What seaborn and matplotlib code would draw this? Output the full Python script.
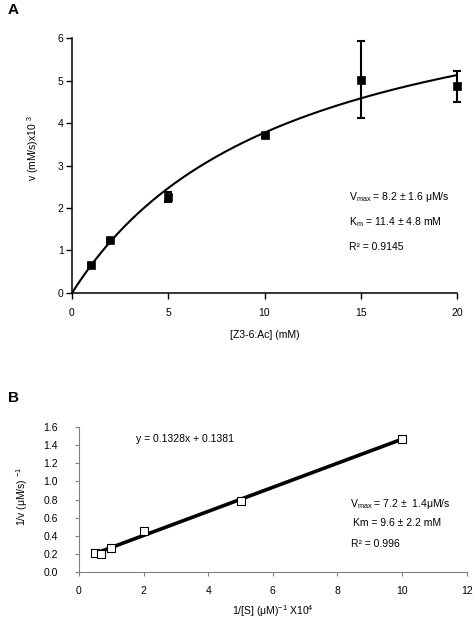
import numpy as np
import pandas as pd
import matplotlib
matplotlib.use("Agg")
import matplotlib.pyplot as plt
import seaborn as sns

# panel A: Michaelis-Menten data
conc = [1, 2, 5, 10, 15, 20]
rate = [0.65, 1.24, 2.26, 3.71, 5.02, 4.86]
rate_err = [0.03, 0.03, 0.11, 0.03, 0.90, 0.36]
vmax_fit = 8.0
km_fit = 11.2

# panel B: Lineweaver-Burk data
inv_s = [0.5, 0.67, 1, 2, 5, 10]
inv_v = [0.205, 0.2, 0.26, 0.45, 0.78, 1.47]
slope_fit = 0.1328
icept_fit = 0.1381

sns.set_style("ticks")
plt.rcParams['font.family'] = ['Liberation Sans', 'DejaVu Sans']
plt.rcParams['mathtext.fontset'] = 'custom'
plt.rcParams['mathtext.rm'] = 'Liberation Sans'
plt.rcParams['mathtext.default'] = 'regular'
for k in ['text.color', 'axes.labelcolor', 'xtick.color', 'ytick.color']:
    plt.rcParams[k] = 'black'
fs = 7.5

fig = plt.figure(figsize=(4.73, 6.18), dpi=100)
axA = fig.add_axes([0.1522, 0.5259, 0.814, 0.4126])
axB = fig.add_axes([0.167, 0.0744, 0.8195, 0.2346])

# %% panel A
xs = np.linspace(0, 20, 200)
curve = pd.DataFrame({'x': xs, 'y': vmax_fit * xs / (km_fit + xs)})
sns.lineplot(data=curve, x='x', y='y', ax=axA, color='black', lw=1.5)
eb = axA.errorbar(conc, rate, yerr=rate_err, fmt='none', ecolor='black',
                  elinewidth=1.5, capsize=3, capthick=1.5, zorder=3)
for art in eb.lines[1] + eb.lines[2]:
    art.set_clip_on(False)
dfA = pd.DataFrame({'x': conc, 'y': rate})
sns.scatterplot(data=dfA, x='x', y='y', ax=axA, marker='s', s=36,
                color='black', edgecolor='black', zorder=4, clip_on=False)
axA.set_xlim(0, 20)
axA.set_ylim(0, 6)
axA.set_xticks([0, 5, 10, 15, 20])
axA.set_yticks(range(0, 7))
sns.despine(ax=axA)
for s in ['left', 'bottom']:
    axA.spines[s].set_linewidth(1.1)
    axA.spines[s].set_color('black')
axA.tick_params(axis='both', labelsize=fs, length=4, width=1, colors='black')
axA.tick_params(axis='x', pad=7)
axA.tick_params(axis='y', pad=2)
axA.set_xlabel('[Z3-6:Ac] (mM)', fontsize=fs)
axA.xaxis.set_label_coords(0.5, -0.165)
axA.xaxis.label.set_va('center')
axA.set_ylabel('v (mM/s)x10 $^{3}$', fontsize=fs)
axA.yaxis.set_label_coords(-0.101, 0.569)
axA.yaxis.label.set_va('center')
axA.text(14.4, 2.26, 'V$_{max}$ = 8.2 ± 1.6 μM/s', fontsize=fs, va='center')
axA.text(14.4, 1.67, 'K$_{m}$ = 11.4 ± 4.8 mM', fontsize=fs, va='center')
axA.text(14.4, 1.08, 'R² = 0.9145', fontsize=fs, va='center')

# %% panel B
xl = np.array([0.55, 10])
line = pd.DataFrame({'x': xl, 'y': slope_fit * xl + icept_fit})
sns.lineplot(data=line, x='x', y='y', ax=axB, color='black', lw=2.6)
dfB = pd.DataFrame({'x': inv_s, 'y': inv_v})
sns.scatterplot(data=dfB, x='x', y='y', ax=axB, marker='s', s=38,
                facecolor='white', edgecolor='black', linewidth=0.8, zorder=4)
axB.set_xlim(0, 12)
axB.set_ylim(0, 1.6)
axB.set_xticks(range(0, 13, 2))
axB.set_yticks(np.arange(0, 1.61, 0.2))
axB.set_yticklabels([f'{v:.1f}' for v in np.arange(0, 1.61, 0.2)])
sns.despine(ax=axB)
for s in ['left', 'bottom']:
    axB.spines[s].set_linewidth(0.8)
    axB.spines[s].set_color('#808080')
axB.tick_params(axis='both', labelsize=fs, length=3, width=0.8,
                color='#808080', labelcolor='black')
axB.tick_params(axis='x', pad=7)
axB.tick_params(axis='y', pad=12)
axB.set_xlabel('1/[S] (μM)$^{-1}$ X10$^{4}$', fontsize=fs)
axB.xaxis.set_label_coords(0.5, -0.271)
axB.xaxis.label.set_va('center')
axB.set_ylabel('1/v (μM/s) $^{-1}$', fontsize=fs)
axB.yaxis.set_label_coords(-0.147, 0.52)
axB.yaxis.label.set_va('center')
axB.text(1.76, 1.47, 'y = 0.1328x + 0.1381', fontsize=fs, va='center')
axB.text(8.39, 0.75, 'V$_{max}$ = 7.2 ±  1.4μM/s', fontsize=fs, va='center')
axB.text(8.48, 0.54, 'Km = 9.6 ± 2.2 mM', fontsize=fs, va='center')
axB.text(8.42, 0.31, 'R² = 0.996', fontsize=fs, va='center')

fig.text(8 / 473, 1 - 10 / 618, 'A', fontsize=11, fontweight='bold', va='center')
fig.text(8 / 473, 1 - 398 / 618, 'B', fontsize=11, fontweight='bold', va='center')

fig.savefig('out.png', dpi=100)
